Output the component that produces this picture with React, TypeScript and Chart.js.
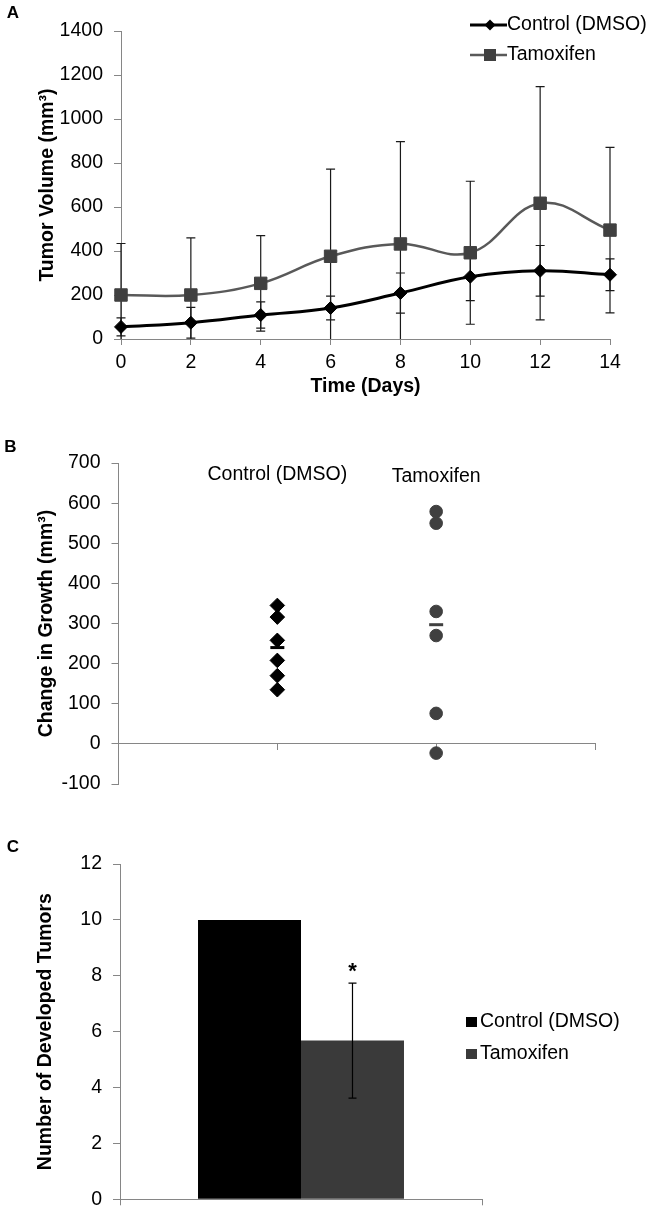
import React, { useEffect, useRef } from 'react';
import { Chart, registerables } from 'chart.js';

Chart.register(...registerables);

const FONT_FAMILY = '"Liberation Sans", Arial, Helvetica, sans-serif';
const AXIS_COLOR = '#868686';
Chart.defaults.font.family = FONT_FAMILY;
Chart.defaults.color = '#000';

// ---------- Panel A: tumor volume over time ----------
const days = [0, 2, 4, 6, 8, 10, 12, 14];
const controlVolume = [55, 74, 109, 141, 209, 283, 310, 292];
const controlVolumeSD = [41, 70, 60, 54, 91, 109, 115, 72];
const tamoxifenVolume = [200, 200, 253, 376, 432, 392, 617, 495];
const tamoxifenVolumeSD = [234, 260, 217, 396, 465, 325, 530, 376];
const volumeTicks = [0, 200, 400, 600, 800, 1000, 1200, 1400];

// ---------- Panel B: change in growth ----------
const groupNames = ['Control (DMSO)', 'Tamoxifen'];
const groupPositions = [1, 2];
const groupAxisTicks = [0, 1, 2, 3];
const controlGrowth = [345, 316, 258, 208, 170, 135];
const tamoxifenGrowth = [579, 550, 330, 270, 76, -23];
const growthMeans = [240, 297];
const growthTicks = [-100, 0, 100, 200, 300, 400, 500, 600, 700];

// ---------- Panel C: number of developed tumors ----------
const barCategories = [''];
const tumorCounts = [10, 5.68];
const tumorCountSD = [0, 2.06];
const significance = ['', '*'];
const countTicks = [0, 2, 4, 6, 8, 10, 12];

const seriesNames = ['Control (DMSO)', 'Tamoxifen'];
const BLACK = '#000000';
const GREY_MARK = '#404040';
const GREY_LINE = '#595959';
const GREY_BAR = '#3a3a3a';

const fontReg = { family: FONT_FAMILY, size: 19.5 };
const fontBold = { family: FONT_FAMILY, size: 19.5, weight: 'bold' as const };

const setTicks = (values: number[]) => (scale: any) => {
  scale.ticks = values.map((v) => ({ value: v }));
};
const plainLabel = (v: any) => String(v);

function errorBarPlugin(id: string, sds: number[][], hook: 'beforeDatasetsDraw' | 'afterDatasetsDraw', capHalf: number, width: number, color: string) {
  return {
    id,
    [hook](chart: any) {
      const { ctx, chartArea } = chart;
      const yScale = chart.scales.y;
      ctx.save();
      ctx.beginPath();
      ctx.rect(chartArea.left - 10, chartArea.top, chartArea.right - chartArea.left + 20, chartArea.bottom - chartArea.top);
      ctx.clip();
      ctx.strokeStyle = color;
      ctx.lineWidth = width;
      sds.forEach((sd, di) => {
        const meta = chart.getDatasetMeta(di);
        const data = chart.data.datasets[di].data;
        meta.data.forEach((el: any, i: number) => {
          const e = sd[i];
          if (!e) return;
          const raw = data[i];
          const v = typeof raw === 'number' ? raw : raw.y;
          const x = el.x;
          const yTop = yScale.getPixelForValue(v + e);
          const yBot = yScale.getPixelForValue(v - e);
          ctx.beginPath();
          ctx.moveTo(x, yTop);
          ctx.lineTo(x, yBot);
          ctx.moveTo(x - capHalf, yTop);
          ctx.lineTo(x + capHalf, yTop);
          ctx.moveTo(x - capHalf, yBot);
          ctx.lineTo(x + capHalf, yBot);
          ctx.stroke();
        });
      });
      ctx.restore();
    },
  };
}

function letterPlugin(letter: string, x: number, y: number) {
  return {
    id: 'panelLetter',
    afterDraw(chart: any) {
      const ctx = chart.ctx;
      ctx.save();
      ctx.font = `bold 17px ${FONT_FAMILY}`;
      ctx.fillStyle = '#000';
      ctx.textAlign = 'center';
      ctx.textBaseline = 'middle';
      ctx.fillText(letter, x, y);
      ctx.restore();
    },
  };
}

const lineLegendPlugin = {
  id: 'lineLegend',
  afterDraw(chart: any) {
    const ctx = chart.ctx;
    chart.data.datasets.forEach((ds: any, i: number) => {
      const y = 25 + i * 30;
      ctx.save();
      ctx.strokeStyle = ds.borderColor;
      ctx.lineWidth = ds.borderWidth;
      ctx.beginPath();
      ctx.moveTo(470, y);
      ctx.lineTo(507, y);
      ctx.stroke();
      ctx.fillStyle = ds.pointBackgroundColor;
      const cx = 490;
      ctx.beginPath();
      if (ds.pointStyle === 'rectRot') {
        const r = 5.5;
        ctx.moveTo(cx - r, y);
        ctx.lineTo(cx, y - r);
        ctx.lineTo(cx + r, y);
        ctx.lineTo(cx, y + r);
        ctx.closePath();
      } else {
        const h = 6;
        ctx.rect(cx - h, y - h, 2 * h, 2 * h);
      }
      ctx.fill();
      ctx.font = `19.5px ${FONT_FAMILY}`;
      ctx.fillStyle = '#000';
      ctx.textAlign = 'left';
      ctx.textBaseline = 'middle';
      ctx.fillText(ds.label, 507, y);
      ctx.restore();
    });
  },
};

const groupLabelPlugin = {
  id: 'groupLabels',
  afterDraw(chart: any) {
    const { ctx, chartArea } = chart;
    const xs = chart.scales.x;
    ctx.save();
    ctx.font = `19.5px ${FONT_FAMILY}`;
    ctx.fillStyle = '#000';
    ctx.textAlign = 'center';
    ctx.textBaseline = 'middle';
    groupNames.forEach((name, i) => {
      ctx.fillText(name, xs.getPixelForValue(groupPositions[i]), chartArea.top + 11.5 + i * 2);
    });
    ctx.restore();
  },
};

const barLegendPlugin = {
  id: 'barLegend',
  afterDraw(chart: any) {
    const ctx = chart.ctx;
    chart.data.datasets.forEach((ds: any, i: number) => {
      const y = 212 + i * 32;
      ctx.save();
      ctx.fillStyle = ds.backgroundColor;
      ctx.fillRect(466, y - 5, 11, 10);
      ctx.font = `19.5px ${FONT_FAMILY}`;
      ctx.fillStyle = '#000';
      ctx.textAlign = 'left';
      ctx.textBaseline = 'middle';
      ctx.fillText(ds.label, 480, y);
      ctx.restore();
    });
  },
};

const significancePlugin = {
  id: 'significance',
  afterDatasetsDraw(chart: any) {
    const ctx = chart.ctx;
    const yScale = chart.scales.y;
    ctx.save();
    ctx.font = `bold 22px ${FONT_FAMILY}`;
    ctx.fillStyle = '#000';
    ctx.textAlign = 'center';
    ctx.textBaseline = 'alphabetic';
    significance.forEach((mark, i) => {
      if (!mark) return;
      const el = chart.getDatasetMeta(i).data[0];
      const top = yScale.getPixelForValue(tumorCounts[i] + tumorCountSD[i]);
      ctx.fillText(mark, el.x, top - 5);
    });
    ctx.restore();
  },
};

function axisGrid(tickLength: number, offset = false) {
  return { display: true, drawOnChartArea: false, drawTicks: true, tickLength, color: AXIS_COLOR, lineWidth: 1, offset };
}
const axisBorder = { display: true, color: AXIS_COLOR, width: 1 };

function buildChartA(canvas: HTMLCanvasElement) {
  return new Chart(canvas, {
    type: 'line',
    data: {
      datasets: [
        {
          label: seriesNames[0],
          data: days.map((d, i) => ({ x: d, y: controlVolume[i] })),
          borderColor: BLACK,
          backgroundColor: BLACK,
          pointBackgroundColor: BLACK,
          pointBorderColor: BLACK,
          borderWidth: 3,
          pointStyle: 'rectRot',
          pointRadius: 6.5,
          pointBorderWidth: 1,
          tension: 0.4,
          clip: false,
        },
        {
          label: seriesNames[1],
          data: days.map((d, i) => ({ x: d, y: tamoxifenVolume[i] })),
          borderColor: GREY_LINE,
          backgroundColor: GREY_MARK,
          pointBackgroundColor: GREY_MARK,
          pointBorderColor: GREY_MARK,
          borderWidth: 2.5,
          pointStyle: 'rect',
          pointRadius: 8.8,
          pointBorderWidth: 1,
          tension: 0.4,
          clip: false,
        },
      ],
    } as any,
    options: {
      animation: false,
      responsive: true,
      maintainAspectRatio: false,
      layout: { padding: { top: 31, right: 46, left: 0, bottom: 0 } },
      plugins: { legend: { display: false }, tooltip: { enabled: false } },
      scales: {
        x: {
          type: 'linear',
          min: 0,
          max: 14,
          afterBuildTicks: setTicks(days),
          afterFit: (s: any) => { s.height = 66; },
          ticks: { font: fontReg, color: '#000', padding: 6.3, maxRotation: 0, callback: plainLabel },
          grid: axisGrid(6),
          border: axisBorder,
          title: { display: true, text: 'Time (Days)', font: fontBold, color: '#000', padding: { top: 0, bottom: 6.6 } },
        },
        y: {
          min: 0,
          max: 1400,
          afterBuildTicks: setTicks(volumeTicks),
          afterFit: (s: any) => { s.width = 121; },
          ticks: { font: fontReg, color: '#000', padding: 11, callback: plainLabel },
          grid: axisGrid(7),
          border: axisBorder,
          title: { display: true, text: 'Tumor Volume (mm³)', font: fontBold, color: '#000', padding: { top: 35.5, bottom: 0 } },
        },
      },
    } as any,
    plugins: [
      errorBarPlugin('errA', [controlVolumeSD, tamoxifenVolumeSD], 'beforeDatasetsDraw', 4.5, 1.2, '#1a1a1a'),
      lineLegendPlugin,
      letterPlugin('A', 13, 13),
    ] as any,
  });
}

function buildChartB(canvas: HTMLCanvasElement) {
  return new Chart(canvas, {
    type: 'scatter',
    data: {
      datasets: [
        {
          label: seriesNames[0],
          data: controlGrowth.map((v) => ({ x: groupPositions[0], y: v })),
          pointStyle: 'rectRot',
          pointRadius: 7.3,
          pointBackgroundColor: BLACK,
          pointBorderColor: BLACK,
          pointBorderWidth: 1,
          clip: false,
        },
        {
          label: seriesNames[1],
          data: tamoxifenGrowth.map((v) => ({ x: groupPositions[1], y: v })),
          pointStyle: 'circle',
          pointRadius: 6.3,
          pointBackgroundColor: GREY_MARK,
          pointBorderColor: GREY_MARK,
          pointBorderWidth: 1,
          clip: false,
        },
        {
          label: 'Mean',
          data: growthMeans.map((v, i) => ({ x: groupPositions[i], y: v })),
          pointStyle: 'line',
          pointRadius: 7,
          pointBorderWidth: 3,
          pointBorderColor: [BLACK, GREY_MARK],
          pointBackgroundColor: [BLACK, GREY_MARK],
          clip: false,
        },
      ],
    } as any,
    options: {
      animation: false,
      responsive: true,
      maintainAspectRatio: false,
      layout: { padding: { top: 58, right: 61, left: 0, bottom: 26 } },
      plugins: { legend: { display: false }, tooltip: { enabled: false } },
      scales: {
        x: {
          type: 'linear',
          min: 0,
          max: 3,
          position: { y: 0 },
          afterBuildTicks: setTicks(groupAxisTicks),
          ticks: { display: false },
          grid: axisGrid(6),
          border: axisBorder,
        },
        y: {
          min: -100,
          max: 700,
          afterBuildTicks: setTicks(growthTicks),
          afterFit: (s: any) => { s.width = 118.5; },
          ticks: { font: fontReg, color: '#000', padding: 11, callback: plainLabel },
          grid: axisGrid(7),
          border: axisBorder,
          title: { display: true, text: 'Change in Growth (mm³)', font: fontBold, color: '#000', padding: { top: 34.6, bottom: 0 } },
        },
      },
    } as any,
    plugins: [groupLabelPlugin, letterPlugin('B', 10.5, 42)] as any,
  });
}

function buildChartC(canvas: HTMLCanvasElement) {
  return new Chart(canvas, {
    type: 'bar',
    data: {
      labels: barCategories,
      datasets: [
        { label: seriesNames[0], data: [tumorCounts[0]], backgroundColor: BLACK, borderWidth: 0 },
        { label: seriesNames[1], data: [tumorCounts[1]], backgroundColor: GREY_BAR, borderWidth: 0 },
      ],
    } as any,
    options: {
      animation: false,
      responsive: true,
      maintainAspectRatio: false,
      layout: { padding: { top: 54, right: 174, left: 0, bottom: 0 } },
      plugins: { legend: { display: false }, tooltip: { enabled: false } },
      datasets: { bar: { categoryPercentage: 0.569, barPercentage: 1 } },
      scales: {
        x: {
          type: 'category',
          offset: true,
          afterFit: (s: any) => { s.height = 12; },
          ticks: { display: false },
          grid: axisGrid(6, true),
          border: axisBorder,
        },
        y: {
          min: 0,
          max: 12,
          afterBuildTicks: setTicks(countTicks),
          afterFit: (s: any) => { s.width = 120; },
          ticks: { font: fontReg, color: '#000', padding: 11, callback: plainLabel },
          grid: axisGrid(7),
          border: axisBorder,
          title: { display: true, text: 'Number of Developed Tumors', font: fontBold, color: '#000', padding: { top: 33.6, bottom: 0 } },
        },
      },
    } as any,
    plugins: [
      errorBarPlugin('errC', [[0], [tumorCountSD[1]]], 'afterDatasetsDraw', 4, 1.2, '#000'),
      significancePlugin,
      barLegendPlugin,
      letterPlugin('C', 13, 37),
    ] as any,
  });
}

function ChartBox({ height, build }: { height: number; build: (c: HTMLCanvasElement) => Chart }) {
  const ref = useRef<HTMLCanvasElement | null>(null);
  useEffect(() => {
    if (!ref.current) return;
    const chart = build(ref.current);
    return () => chart.destroy();
  }, []);
  return (
    <div style={{ position: 'relative', width: 656, height }}>
      <canvas ref={ref} />
    </div>
  );
}

export default function App() {
  return (
    <div style={{ position: 'absolute', left: 0, top: 0, width: 656, height: 1222, background: '#fff' }}>
      <ChartBox height={405} build={buildChartA} />
      <ChartBox height={405} build={buildChartB} />
      <ChartBox height={412} build={buildChartC} />
    </div>
  );
}
